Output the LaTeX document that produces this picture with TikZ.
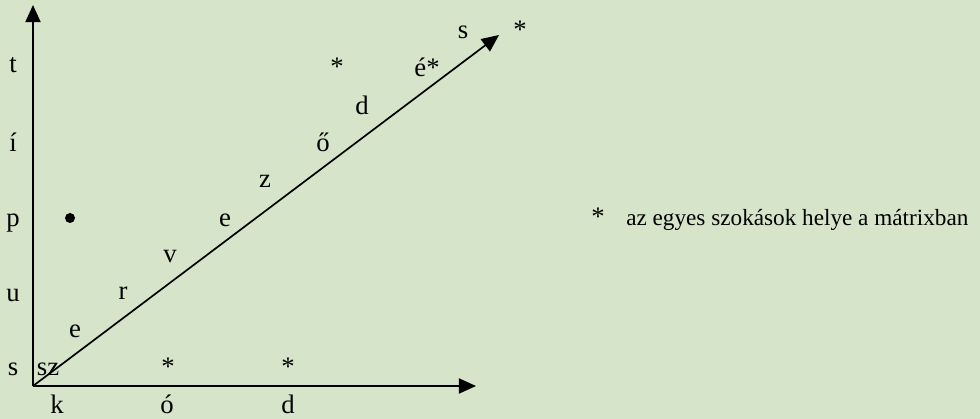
\documentclass[tikz,border=0pt]{standalone}
\usepackage{fontspec}
\setmainfont{Liberation Serif}
\usetikzlibrary{arrows.meta,positioning}
\definecolor{paper}{RGB}{214,228,202}

\begin{document}
\begin{tikzpicture}[
    x=0.025cm, y=-0.025cm,
    every node/.style={font=\fontsize{19}{22}\selectfont, inner sep=0pt},
    letter/.style={anchor=base},
    legend/.style={font=\fontsize{16.5}{19}\selectfont, anchor=base west},
    axis/.style={-{Triangle[length=4.3mm,width=3.8mm]}, line width=1.2pt}
]
\fill[paper] (0,0) rectangle (980,419);
\useasboundingbox (0,0) rectangle (980,419);

\coordinate (origin) at (33,386);
\coordinate (ytop) at (33,5);
\coordinate (xend) at (476,386);
\coordinate (diag) at (499,35);

\draw[axis] (origin) -- (ytop);
\draw[axis] (origin) -- (xend);
\draw[axis] (origin) -- (diag);

% left axis
\node[letter] (t) at (13,73) {t};
\node[letter] (ii) at (13,152) {í};
\node[letter] (p) at (13,227) {p};
\node[letter] (u) at (13,302) {u};
\node[letter] (s1) at (13,375) {s};
\fill (70,218) circle (5) coordinate (dot);

% bottom axis
\node[letter] (k) at (57,413) {k};
\node[letter] (oo) at (167,413) {ó};
\node[letter] (d1) at (288,413) {d};
\node[letter] (st1) at (168,375) {*};
\node[letter] (st2) at (288,375) {*};

% diagonal
\node[letter] (sz) at (48,375) {sz};
\node[letter] (e1) at (75,338) {e};
\node[letter] (r) at (123,300) {r};
\node[letter] (v) at (170,263) {v};
\node[letter] (e2) at (225,227) {e};
\node[letter] (z) at (265,188) {z};
\node[letter] (oe) at (323,152) {ő};
\node[letter] (d2) at (362,115) {d};
\node[letter] (st3) at (337,76) {*};
\node[letter] (ee) at (427,77) {é*};
\node[letter] (s2) at (463,39) {s};
\node[letter] (st4) at (520,39) {*};

% legend
\node[letter] (st5) at (598,226) {*};
\node[legend] (key) at (626,226) {az egyes szokások helye a mátrixban};
\end{tikzpicture}
\end{document}
